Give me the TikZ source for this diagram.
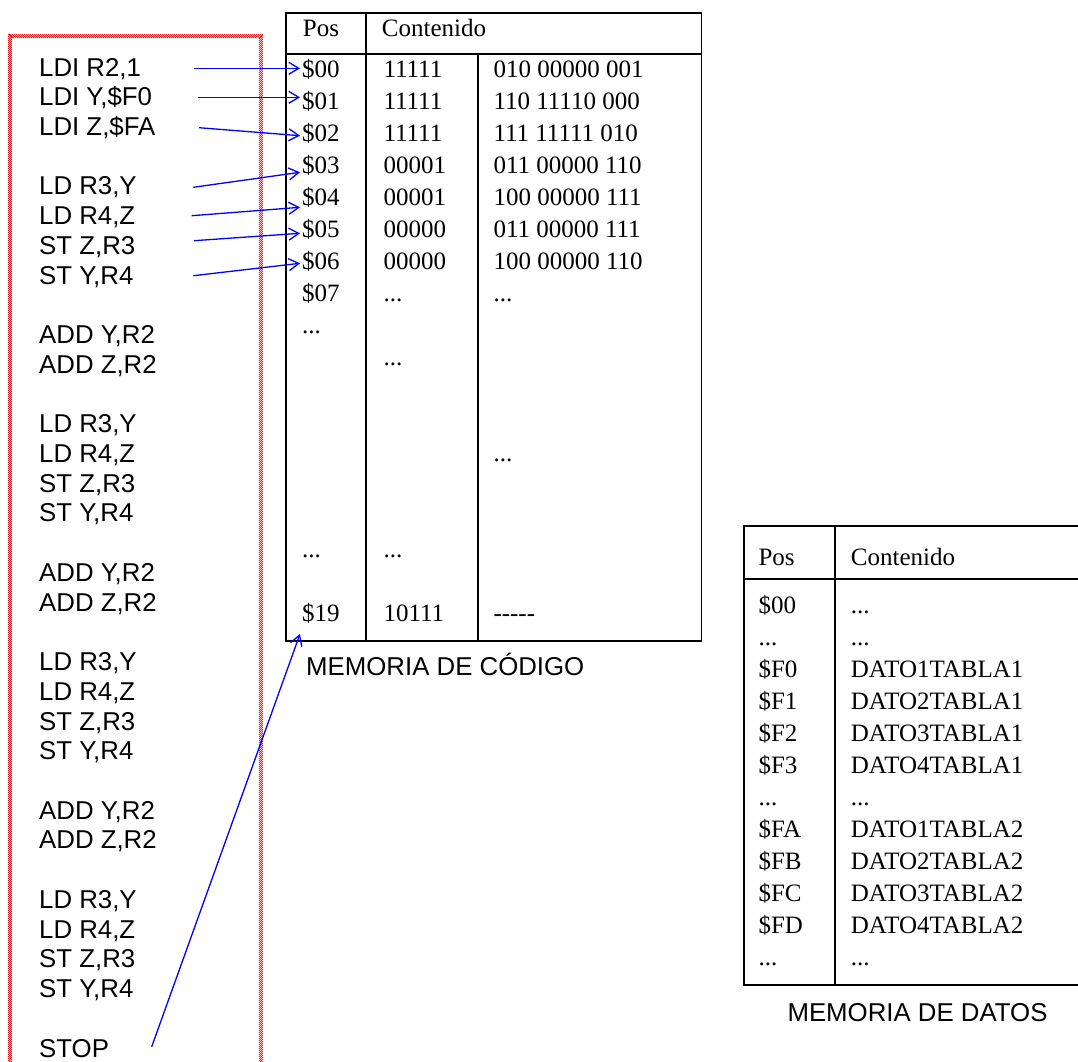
\documentclass[tikz,border=0pt]{standalone}
\usepackage{fontspec}
\setmainfont{Liberation Serif}
\newfontfamily\arialfont{Liberation Sans}
\usetikzlibrary{arrows.meta}
\definecolor{arrblue}{RGB}{0,0,255}
\definecolor{boxpink}{RGB}{255,200,200}
\definecolor{boxred}{RGB}{240,30,30}
\newcommand{\myeli}{...}
\newcommand{\mydash}{{-}{-}{-}{-}{-}}
\begin{document}
\begin{tikzpicture}[x=1pt,y=-1pt,
  serif/.style={font=\fontsize{25}{30}\selectfont, inner sep=0pt, anchor=base west},
  sans/.style={font=\arialfont\fontsize{25.8}{29.7}\selectfont, inner sep=0pt, anchor=base west},
  gridline/.style={line width=1.8pt, black},
  hatch/.style={line width=1pt, boxred, dash pattern=on 1pt off 1pt},
  arr/.style={draw=arrblue, line width=1.3pt, -{Straight Barb[length=10pt,width=12pt]}},
]
\useasboundingbox (0,0) rectangle (1078,1061);
\clip (0,0) rectangle (1078,1061);

% red program box (checkered border)
\draw[line width=4pt, boxpink] (10.2,1085) -- (10.2,35.7) -- (261.3,35.7) -- (261.3,1085);
\foreach \o/\ph in {-1.5/0, -0.5/1, 0.5/0, 1.5/1}
  \draw[hatch, dash phase=\ph pt] ({10.2+\o},1085) -- ({10.2+\o},{35.7+\o}) -- ({261.3-\o},{35.7+\o}) -- ({261.3-\o},1085);

% program text
\foreach \k/\t in {0/{LDI R2,1}, 1/{LDI Y,\$F0}, 2/{LDI Z,\$FA},
  4/{LD R3,Y}, 5/{LD R4,Z}, 6/{ST Z,R3}, 7/{ST Y,R4},
  9/{ADD Y,R2}, 10/{ADD Z,R2},
  12/{LD R3,Y}, 13/{LD R4,Z}, 14/{ST Z,R3}, 15/{ST Y,R4},
  17/{ADD Y,R2}, 18/{ADD Z,R2},
  20/{LD R3,Y}, 21/{LD R4,Z}, 22/{ST Z,R3}, 23/{ST Y,R4},
  25/{ADD Y,R2}, 26/{ADD Z,R2},
  28/{LD R3,Y}, 29/{LD R4,Z}, 30/{ST Z,R3}, 31/{ST Y,R4},
  33/{STOP}}
  \node[sans] (L\k) at (39,{76+29.73*\k}) {\t};

% code memory table
\draw[gridline] (286,13) rectangle (701.5,641);
\draw[gridline] (286,54) -- (701.5,54);
\draw[gridline] (366,13) -- (366,641);
\draw[gridline] (478,54) -- (478,641);
\node[serif] (chpos) at (302.7,36.7) {Pos};
\node[serif] (chcont) at (381.7,36.7) {Contenido};
\foreach \k/\t in {0/00,1/01,2/02,3/03,4/04,5/05,6/06,7/07}
  \node[serif] (p\t) at (302,{77+32*\k}) {\$\t};
\node[serif] (pd1) at (302,333) {\myeli};
\node[serif] (pd2) at (302,557) {\myeli};
\node[serif] (p19) at (302,621) {\$19};
\foreach \k/\t in {0/11111,1/11111,2/11111,3/00001,4/00001,5/00000,6/00000,7/\myeli,9/\myeli,15/\myeli,17/10111}
  \node[serif] (c\k) at (383.3,{77+32*\k}) {\t};
\foreach \k/\t in {0/{010 00000 001},1/{110 11110 000},2/{111 11111 010},3/{011 00000 110},
  4/{100 00000 111},5/{011 00000 111},6/{100 00000 110},7/\myeli,12/\myeli,17/\mydash}
  \node[serif] (b\k) at (493.3,{77+32*\k}) {\t};
\node[sans] (lblcode) at (306,675) {MEMORIA DE CÓDIGO};

% data memory table
\draw[gridline] (1095,526) -- (744,526) -- (744,985) -- (1095,985);
\draw[gridline] (744,579) -- (1095,579);
\draw[gridline] (835,526) -- (835,985);
\node[serif] (dhpos) at (758.3,565) {Pos};
\node[serif] (dhcont) at (850.7,565) {Contenido};
\foreach \k/\a/\b in {0/\$00/\myeli,1/\myeli/\myeli,2/\$F0/DATO1TABLA1,3/\$F1/DATO2TABLA1,
  4/\$F2/DATO3TABLA1,5/\$F3/DATO4TABLA1,6/\myeli/\myeli,7/\$FA/DATO1TABLA2,
  8/\$FB/DATO2TABLA2,9/\$FC/DATO3TABLA2,10/\$FD/DATO4TABLA2,11/\myeli/\myeli}{
  \node[serif] (da\k) at (758.3,{613+32*\k}) {\a};
  \node[serif] (db\k) at (850.7,{613+32*\k}) {\b};
}
\node[sans] (lbldata) at (787.3,1021.7) {MEMORIA DE DATOS};

% arrows
\coordinate (s1) at (194.3,68.3);
\coordinate (s2) at (198.3,97.3);
\coordinate (s3) at (199,127.7);
\coordinate (s4) at (193.3,187.3);
\coordinate (s5) at (191.7,215.7);
\coordinate (s6) at (194,240.7);
\coordinate (s7) at (193.3,275.7);
\coordinate (s8) at (151.7,1046.7);
\draw[arr] (s1) -- ([xshift=-2pt,yshift=8.7pt]p00.base west);
\draw[arr] (s2) -- ([xshift=-2pt,yshift=11.7pt]p01.base west);
\draw[arr] (s3) -- ([xshift=-2pt,yshift=5.3pt]p02.base west);
\draw[arr] (s4) -- ([xshift=-2pt,yshift=0.7pt]p03.base west);
\draw[arr] (s5) -- ([xshift=-2pt,yshift=-2.3pt]p04.base west);
\draw[arr] (s6) -- ([xshift=-2pt,yshift=3.7pt]p05.base west);
\draw[arr] (s7) -- ([xshift=-2pt,yshift=5.7pt]p06.base west);
\draw[arr] (s8) -- ([xshift=-2pt,yshift=-13pt]p19.base west);
\end{tikzpicture}
\end{document}
